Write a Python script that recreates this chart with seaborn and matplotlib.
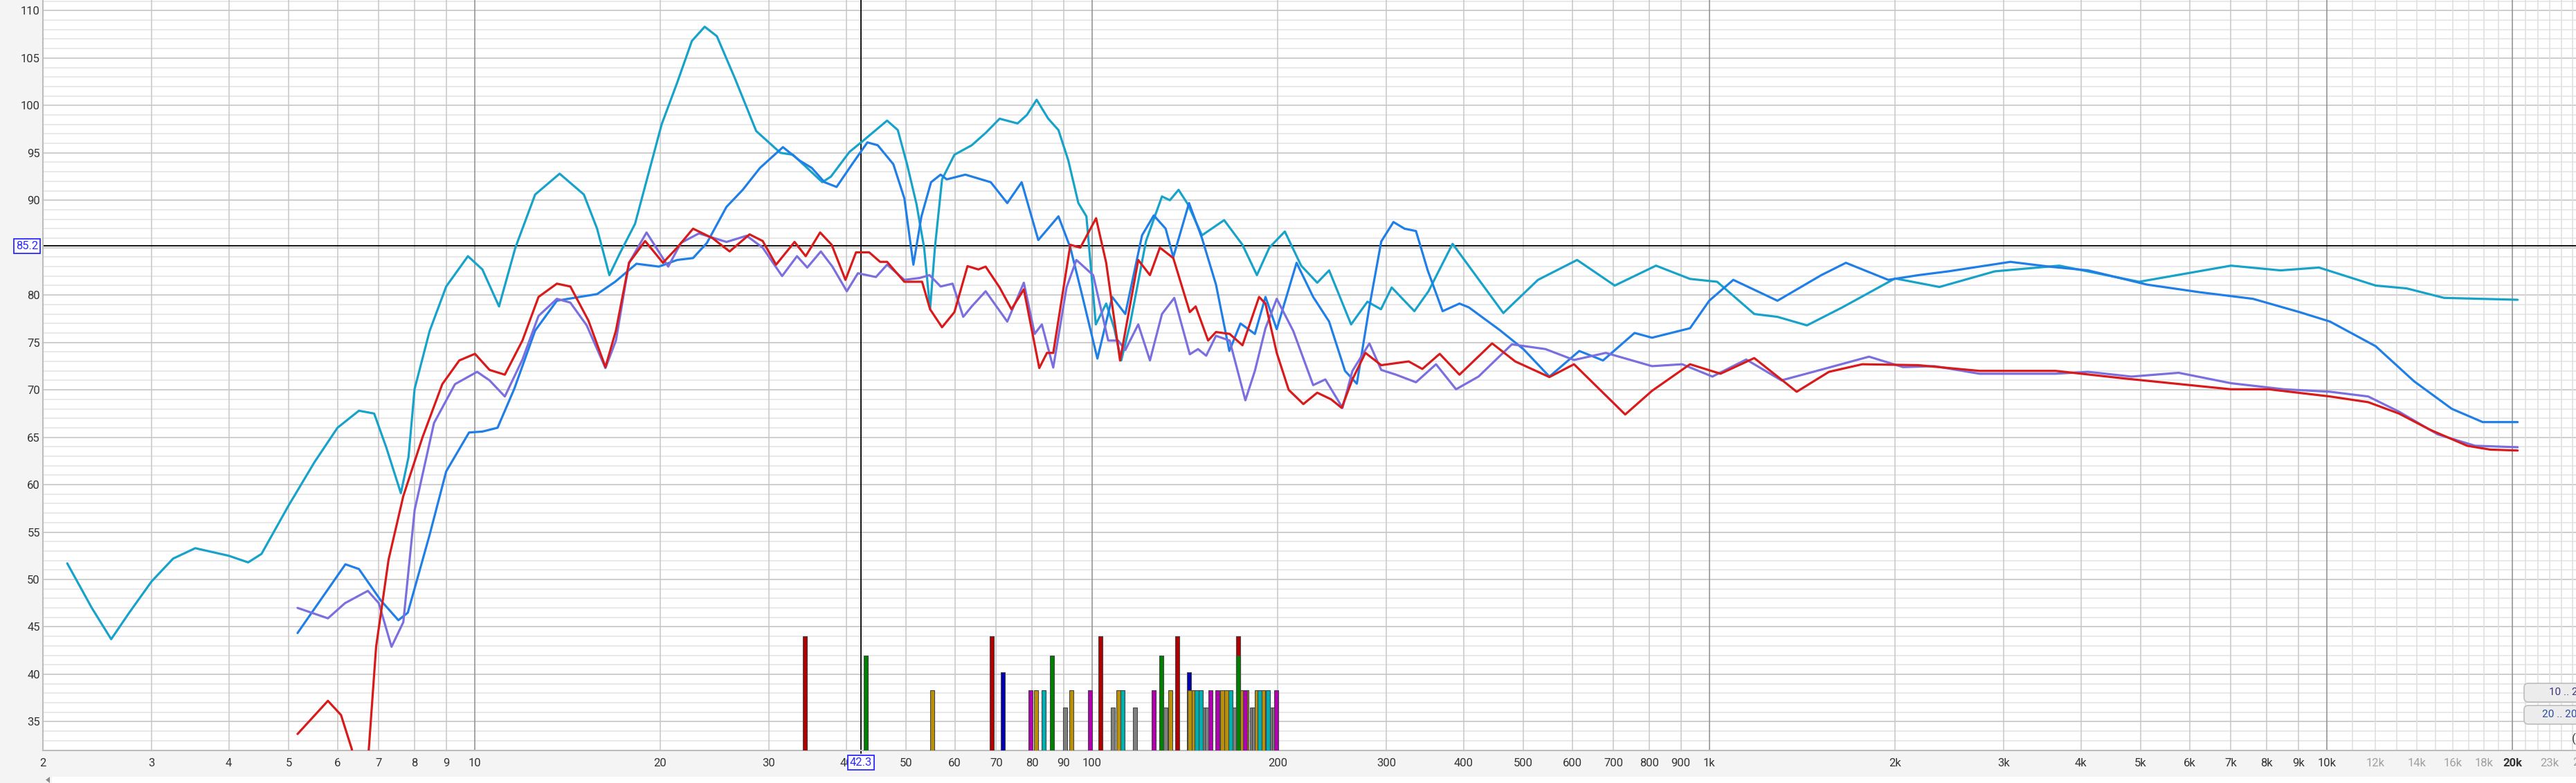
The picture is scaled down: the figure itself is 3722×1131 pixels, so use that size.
import matplotlib
matplotlib.use("Agg")
import matplotlib.pyplot as plt
import seaborn as sns
from matplotlib import font_manager
from matplotlib.patches import FancyBboxPatch, Rectangle, Polygon

# frequency response curves, Hz / dB SPL
cyan_hz = [2.19, 2.40, 2.58, 2.76, 3.0, 3.25, 3.53, 4.0, 4.30, 4.52, 5.0, 5.51, 6.0, 6.5, 6.88,
           7.2, 7.6, 7.82, 8.0, 8.46, 9.0, 9.76, 10.3, 10.96, 11.65, 12.54, 13.74, 15.04, 15.8,
           16.54, 17.2, 18.2, 19.3, 20.1, 21.3, 22.5, 23.6, 24.7, 26.4, 28.6, 31.3, 32.8, 34.2,
           36.6, 37.8, 40.5, 42.3, 46.6, 48.5, 50.2, 52.0, 53.5, 54.7, 55.7, 57.2, 59.9, 63.9,
           67.3, 70.9, 75.8, 78.5, 81.4, 85.0, 88.3, 91.6, 95.1, 98.0, 101.5, 105.5, 108.7,
           111.6, 115.3, 122.4, 129.9, 133.8, 138.2, 143.0, 150.8, 163.8, 175.4, 185.1, 193.9,
           205.4, 218.3, 231.8, 242.3, 263, 279.5, 294, 306, 333, 351, 384, 464, 528, 611, 703,
           820, 931, 1030, 1183, 1290, 1440, 1643, 2000, 2360, 2901, 3690, 4970, 7000, 8420,
           9720, 12010, 13480, 15500, 20390]
cyan_db = [51.7, 47.0, 43.7, 46.5, 49.8, 52.2, 53.3, 52.5, 51.8, 52.7, 57.8, 62.4, 66.0, 67.8, 67.5,
           63.9, 59.1, 62.9, 70.1, 76.2, 80.9, 84.1, 82.7, 78.8, 85.0, 90.6, 92.8, 90.6, 87.0,
           82.1, 84.4, 87.5, 93.7, 98.0, 102.4, 106.8, 108.3, 107.3, 102.9, 97.3, 95.0, 94.8, 93.7,
           91.9, 92.5, 95.1, 96.1, 98.4, 97.4, 93.8, 89.6, 85.0, 78.5, 85.0, 92.2, 94.8, 95.8,
           97.1, 98.6, 98.1, 99.0, 100.6, 98.6, 97.4, 94.2, 89.7, 88.3, 76.9, 79.1, 76.5,
           73.1, 76.9, 85.7, 90.4, 90.0, 91.1, 89.6, 86.3, 87.9, 85.3, 82.1, 85.0,
           86.7, 83.1, 81.3, 82.6, 76.9, 79.3, 78.5, 80.8, 78.3, 80.4, 85.4, 78.1, 81.6, 83.7, 81.0,
           83.1, 81.7, 81.4, 78.0, 77.7, 76.8, 78.7, 81.75, 80.85, 82.5, 83.1, 81.4, 83.1, 82.6,
           82.9, 81.0, 80.7, 79.7, 79.5]

blue_hz = [5.17, 6.18, 6.5, 7.05, 7.53, 7.8, 8.46, 9.0, 9.8, 10.3, 10.9, 11.6, 12.54, 13.6, 14.8,
           15.8, 16.9, 18.3, 19.9, 21.3, 22.6, 23.8, 25.6, 27.2, 29.0, 31.6, 33.6, 35.2, 36.9,
           38.6, 40.9, 43.3, 45.0, 47.7, 49.7, 51.4, 52.97, 54.9, 56.9, 58.2, 62.4, 68.6, 72.95,
           76.98, 81.9, 88.3, 92.3, 96.6, 102.1, 107.9, 113.3, 120.6, 126, 131.7, 135.5, 143.7,
           150.8, 158.9, 167.0, 174.1, 183.7, 191.1, 199.3, 214.6, 228.3, 242.3, 257.1, 268.7,
           281.6, 294.3, 308, 321, 335, 350, 370, 394, 408, 458, 500, 551, 616, 673, 757, 808,
           931, 1000, 1094, 1290, 1519, 1665, 1950, 2183, 2440, 3075, 3550, 4110, 5119, 6225,
           7600, 9040, 10130, 12010, 13860, 15950, 17900, 20390]
blue_db = [44.35, 51.6, 51.1, 47.8, 45.7, 46.5, 54.7, 61.4, 65.5, 65.6, 66.0, 70.1, 76.25, 79.4, 79.8,
           80.1, 81.4, 83.3, 83.0, 83.7, 83.9, 85.5, 89.3, 91.1, 93.4, 95.6, 94.2, 93.4, 91.9,
           91.4, 93.8, 96.1, 95.8, 93.8, 90.2, 83.2, 88.3, 91.9, 92.7, 92.2, 92.7, 91.9, 89.7,
           91.9, 85.8, 88.3, 85.0, 79.8, 73.3, 79.8, 78.0, 86.3, 88.4, 87.0, 84.0, 89.7,
           86.0, 81.1, 74.1, 77.0, 75.9, 79.8, 76.4, 83.4, 79.8, 77.2, 72.0, 70.65,
           78.8, 85.65, 87.7, 87.0, 86.75, 82.6, 78.3, 79.1, 78.7, 76.3, 74.3, 71.4, 74.1, 73.1, 76.0, 75.5,
           76.5, 79.4, 81.6, 79.4, 82.1, 83.4, 81.6, 82.1, 82.5, 83.5, 83.0, 82.6, 81.1, 80.3,
           79.6, 78.2, 77.2, 74.6, 70.9, 68.0, 66.6, 66.6]

red_hz = [5.17, 5.79, 6.08, 6.33, 6.52, 6.72, 6.93, 7.26, 7.67, 8.24, 8.87, 9.45, 10.02, 10.58,
          11.2, 11.96, 12.7, 13.6, 14.3, 15.3, 16.3, 16.95, 17.8, 18.9, 20.2, 21.3, 22.6, 24.3,
          25.9, 27.9, 29.3, 30.8, 33.0, 34.4, 36.3, 37.9, 39.9, 41.5, 43.6, 45.4, 46.6, 49.7,
          53.1, 54.7, 57.2, 59.9, 62.9, 65.5, 67.3, 70.9, 74.1, 77.6, 82.2, 84.6, 86.6, 92.3,
          95.8, 101.6, 105.5, 111.1, 118.9, 124.2, 128.9, 135.5, 144.1, 147.3, 154.3, 158.9,
          167.2, 175.4, 186.6, 191.1, 199.3, 208.4, 220.1, 231.8, 244.1, 253.9, 264.3, 277.4,
          294.3, 326, 343, 366, 394, 445, 485, 551, 604, 731, 808, 931, 1043, 1183, 1386, 1563,
          1770, 2183, 2740, 3640, 4705, 5900, 7000, 8060, 10130, 11680, 13100, 14700, 16900,
          18400, 20390]
red_db = [33.7, 37.2, 35.7, 32.1, 22.0, 30.7, 42.9, 52.1, 58.8, 65.0, 70.6, 73.1, 73.8, 72.1,
          71.6, 75.2, 79.8, 81.2, 80.9, 77.3, 72.4, 76.25, 83.4, 85.7, 83.4, 85.0, 87.0, 86.0,
          84.6, 86.4, 85.7, 83.2, 85.6, 84.1, 86.6, 85.3, 81.6, 84.5, 84.5, 83.5, 83.5, 81.4,
          81.4, 78.5, 76.6, 78.2, 83.05, 82.7, 83.0, 80.8, 78.5, 80.6, 72.3, 73.9, 73.9, 85.3,
          85.0, 88.1, 83.4, 73.1, 83.7, 82.1, 85.0, 83.9, 78.2, 78.8, 75.2, 76.1,
          75.9, 74.7, 79.8, 79.1, 73.9, 70.0, 68.5, 69.7, 69.0, 68.1, 71.1, 73.9,
          72.6, 73.0, 72.2, 73.8, 71.6, 74.9, 73.0, 71.35, 72.7, 67.4, 69.9, 72.7, 71.7, 73.35, 69.8, 71.9,
          72.7, 72.6, 72.0, 72.0, 71.2, 70.55, 70.06, 70.06, 69.3, 68.7, 67.5, 65.8, 64.1,
          63.7, 63.6]

purple_hz = [5.17, 5.79, 6.17, 6.72, 7.0, 7.34, 7.67, 8.0, 8.6, 9.3, 10.1, 10.58, 11.2, 11.96,
             12.7, 13.6, 14.3, 15.2, 16.3, 16.95, 17.8, 19.0, 20.6, 21.6, 23.1, 25.6, 27.6, 29.3,
             31.5, 33.3, 34.6, 36.4, 38.0, 40.1, 41.8, 44.7, 46.6, 49.7, 52.6, 54.6, 56.9, 59.5,
             61.9, 63.9, 67.3, 72.95, 77.6, 80.8, 83.0, 86.6, 91.0, 94.4, 100.5, 106.3, 110.3,
             113.3, 118.9, 124.2, 129.9, 136.0, 144.1, 148.6, 153.2, 158.9, 167.2, 177.3, 183.7,
             191.1, 199.3, 212, 228.3, 238.9, 254.7, 264.3, 281.6, 294.3, 311, 335, 361, 389, 423,
             479, 543, 604, 680, 808, 904, 1012, 1148, 1309, 1474, 1815, 2060, 2317, 2740, 3640,
             4110, 4830, 5760, 7000, 8530, 10130, 11680, 13100, 15140, 17400, 20390]
purple_db = [47.0, 45.9, 47.5, 48.8, 47.5, 42.9, 45.5, 57.3, 66.5, 70.6, 71.9, 71.0, 69.3, 73.2,
             77.8, 79.6, 79.2, 76.8, 72.3, 75.2, 83.4, 86.6, 83.0, 85.5, 86.5, 85.6, 86.25, 85.0,
             82.0, 84.1, 82.9, 84.6, 83.0, 80.4, 82.3, 81.9, 83.2, 81.6, 81.8, 82.1, 80.9, 81.2,
             77.7, 78.8, 80.4, 77.2, 81.3, 75.9, 76.9, 72.35, 80.8, 83.7, 82.1, 75.2, 75.2,
             74.2, 76.9, 73.1, 78.0, 79.7, 73.75, 74.3, 73.6, 75.7, 75.2, 68.9, 72.0,
             76.5, 79.6, 76.2, 70.5, 71.1, 68.1, 72.0, 74.9, 72.1, 71.6, 70.8, 72.7, 70.06, 71.4,
             74.8, 74.3, 73.15, 73.9, 72.5, 72.7, 71.4, 73.2, 71.0, 71.9, 73.5, 72.4, 72.5, 71.7, 71.7,
             71.9, 71.4, 71.8, 70.7, 70.06, 69.8, 69.3, 67.7, 65.3, 64.1, 63.95]

# room modes (Hz) and their marker level (dB)
mode_kinds = ["axial_l", "axial_w", "axial_h", "tang_a", "tang_b", "tang_c", "oblique"]
mode_levels = [44.0, 42.0, 40.2, 38.3, 38.3, 38.3, 36.5]
mode_hz = {
    "oblique": [90.5, 108.3, 117.4, 131.5, 152.2, 153.8, 161.8, 170.2, 181.6, 183.0, 190.7,
                195.8, 197.6],
    "axial_l": [34.3, 68.8, 103.3, 137.6, 172.5],
    "axial_w": [43.0, 86.1, 129.5, 172.5],
    "axial_h": [71.8, 143.6],
    "tang_a": [55.1, 81.2, 92.7, 110.5, 134.0, 144.2, 146.2, 162.8, 165.2, 175.2, 178.0, 185.1,
               189.2],
    "tang_b": [79.6, 99.4, 125.9, 155.5, 159.6, 176.9, 198.7],
    "tang_c": [83.5, 112.2, 147.9, 150.0, 167.8, 187.0, 192.8],
}

cursor_hz = 42.3
cursor_db = 85.2

x_ticks = [2, 3, 4, 5, 6, 7, 8, 9, 10, 20, 30, 40, 50, 60, 70, 80, 90, 100, 200, 300, 400, 500,
           600, 700, 800, 900, 1000, 2000, 3000, 4000, 5000, 6000, 7000, 8000, 9000, 10000,
           12000, 14000, 16000, 18000, 20000, 23000]
x_labels = ["2", "3", "4", "5", "6", "7", "8", "9", "10", "20", "30", "40", "50", "60", "70", "80",
            "90", "100", "200", "300", "400", "500", "600", "700", "800", "900", "1k", "2k", "3k",
            "4k", "5k", "6k", "7k", "8k", "9k", "10k", "12k", "14k", "16k", "18k", "20k", "23k"]
y_ticks = list(range(35, 111, 5))
# the 85 label sits under the cursor read-out box
y_labels = ["" if v == 85 else str(v) for v in y_ticks]

# ---- style
sns.set_style("white")
names = {f.name for f in font_manager.fontManager.ttflist}
if "Liberation Sans Narrow" in names:
    plt.rcParams["font.family"] = ["Liberation Sans Narrow", "DejaVu Sans"]
    fs = 14
else:
    plt.rcParams["font.family"] = ["Roboto", "DejaVu Sans"]
    fs = 12

W, H = 3722, 1131
fig = plt.figure(figsize=(W / 100, H / 100), dpi=100, facecolor="#f4f4f4")
ax = fig.add_axes([62 / W, 47.5 / H, 1 - 62 / W, 1083.5 / H])
ax.set_facecolor("white")
ax.set_xscale("log")
ax.set_xlim(2, 25350)
ax.set_ylim(32, 111.12)

# grid
for d in range(32, 112):
    if d % 5:
        ax.axhline(d, color="#e3e3e3", lw=1.1, zorder=0)
for d in y_ticks:
    ax.axhline(d, color="#c6c6c6", lw=1.2, zorder=0)
for dec in [1, 10, 100, 1000]:
    for m in range(2, 10):
        ax.axvline(m * dec, color="#c6c6c6", lw=1.1, zorder=0)
for k in range(11, 26):
    if k != 20:
        ax.axvline(k * 1000, color="#dedede", lw=1.1, zorder=0)
for v in [10, 100, 1000, 10000, 20000]:
    ax.axvline(v, color="#8c8c8c", lw=1.1, zorder=0.5)

# cursor
ax.axhline(cursor_db, color="black", lw=1.3, zorder=2)
ax.plot([cursor_hz, cursor_hz], [111.12, 31.65], color="black", lw=1.3, zorder=2, clip_on=False)

# mode markers
palette = {"axial_l": "#b00000", "axial_w": "#008000", "axial_h": "#0000b0",
           "tang_a": "#b8900a", "tang_b": "#b000b0", "tang_c": "#00b0b0", "oblique": "#808080"}
half = 10 ** (3.0 / 892)
for i, kind in enumerate(["oblique", "axial_l", "axial_w", "axial_h", "tang_a", "tang_b", "tang_c"]):
    lvl = mode_levels[mode_kinds.index(kind)]
    lefts = [f / half for f in mode_hz[kind]]
    widths = [f * half - f / half for f in mode_hz[kind]]
    ax.bar(lefts, [lvl - 32] * len(lefts), width=widths, bottom=32, align="edge",
           color=palette[kind], edgecolor="#454545", lw=0.8, zorder=3 + i * 0.1)

# curves
curves = [(cyan_hz, cyan_db, "#17a3c9"), (blue_hz, blue_db, "#1f7fe6"),
          (purple_hz, purple_db, "#7b6fdf"), (red_hz, red_db, "#d81a1a")]
for i, (xs, ys, c) in enumerate(curves):
    sns.lineplot(x=xs, y=ys, ax=ax, color=c, lw=2.3, sort=False, estimator=None,
                 solid_joinstyle="round", zorder=5 + i)

# axes decoration
for s in ["top", "right"]:
    ax.spines[s].set_visible(False)
for s in ["left", "bottom"]:
    ax.spines[s].set_color("#bcbcbc")
    ax.spines[s].set_linewidth(1.5)
ax.set_xticks(x_ticks, labels=x_labels)
ax.xaxis.set_minor_locator(matplotlib.ticker.NullLocator())
ax.set_yticks(y_ticks, labels=y_labels)
ax.tick_params(axis="x", length=0, pad=8, labelsize=fs, labelcolor="#333333")
ax.tick_params(axis="y", length=0, pad=3, labelsize=fs, labelcolor="#333333")
for lab in ax.get_xticklabels():
    if lab.get_text() in ["12k", "14k", "16k", "18k", "23k"]:
        lab.set_color("#a0a0a0")
    if lab.get_text() == "20k":
        lab.set_fontweight("bold")
ax.set_xlabel("")
ax.set_ylabel("")
fig.text(3731 / W, 1 - 1102 / H, "26k", color="#a0a0a0", fontsize=fs, ha="center", va="center")

# cursor read-outs
box = dict(boxstyle="square,pad=0.18", fc="white", ec="#2a2aff", lw=1.3)
fig.text(39 / W, 1 - 355.5 / H, f"{cursor_db}", color="#2a2aff", fontsize=fs,
         ha="center", va="center", bbox=box, zorder=20)
fig.text(1244 / W, 1 - 1101 / H, f"{cursor_hz}", color="#2a2aff", fontsize=fs,
         ha="center", va="center", bbox=box, zorder=20)

# range buttons at lower right
for y0, txt, x_txt, col in [(987, "10 .. 20", 3683, "#3f3380"), (1019, "20 .. 20", 3673, "#2b4a9c")]:
    fig.add_artist(FancyBboxPatch((3647 / W, 1 - (y0 + 27) / H), 120 / W, 27 / H,
                                  boxstyle="round,pad=0,rounding_size=0.0016",
                                  mutation_aspect=W / H, transform=fig.transFigure,
                                  fc="#ececec", ec="#bdbdbd", lw=1.2, zorder=30))
    fig.text(x_txt / W, 1 - (y0 + 13.5) / H, txt, color=col, fontsize=fs - 1,
             ha="left", va="center", zorder=31)
fig.text(3716 / W, 1 - 1067 / H, "(", color="#333333", fontsize=fs, ha="left", va="center")

# scrollbar strip
fig.add_artist(Rectangle((75 / W, 0), 1, 9.5 / H, transform=fig.transFigure,
                         fc="white", ec="none", zorder=30))
fig.add_artist(Polygon([(66 / W, 4.5 / H), (72 / W, 9 / H), (72 / W, 0)], closed=True,
                       transform=fig.transFigure, fc="#8a8a8a", ec="none", zorder=31))

fig.savefig("out.png", dpi=100, facecolor=fig.get_facecolor())
